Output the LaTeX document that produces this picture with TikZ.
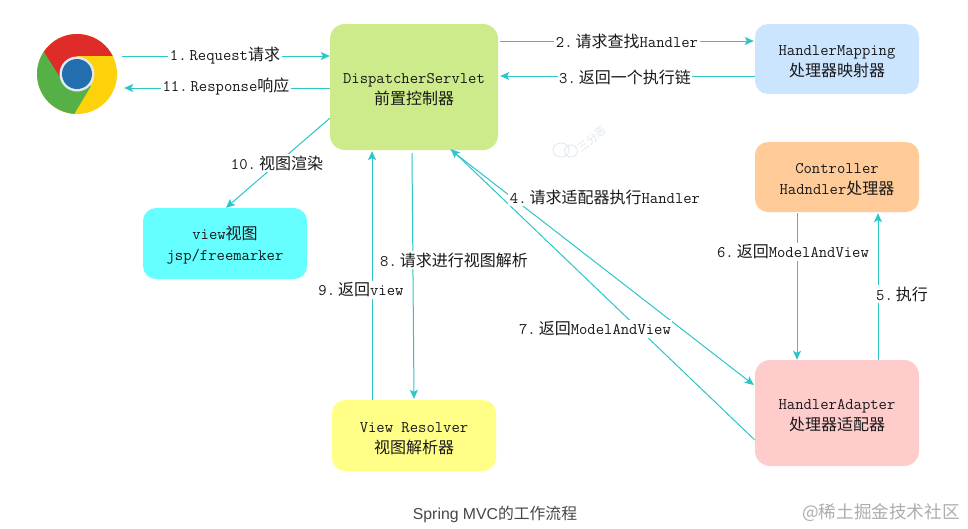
\documentclass[tikz,border=0pt]{standalone}
\usepackage{fontspec}
\setsansfont{Liberation Sans}
\newfontfamily\cjk{Noto Sans CJK SC}
\newcommand{\Z}[1]{{\cjk\fontsize{16}{19}\selectfont #1}}
\newcommand{\Up}{\rule{0pt}{16pt}}
\newcommand{\Sp}{\hspace{3pt}}
\usetikzlibrary{calc,arrows.meta}
\definecolor{linec}{HTML}{2CC6C9}
\tikzset{
  x=1pt,y=-1pt,
  boxn/.style={rectangle,rounded corners=13pt,inner sep=0pt,minimum width=164pt,minimum height=70pt,align=center,
    font=\ttfamily\fontsize{16.2}{21}\selectfont,text=black!90},
  conn/.style={draw=linec,line width=1pt,-{Stealth[length=9pt,width=8pt,inset=2pt]}},
  lab/.style={fill=white,inner sep=1.5pt,font=\ttfamily\fontsize{16.2}{19}\selectfont,text=black!90},
}
\begin{document}
\begin{tikzpicture}
\useasboundingbox (0,0) rectangle (968,528);
\fill[white] (0,0) rectangle (968,528);

% boxes
\node[boxn,fill={rgb,255:red,205;green,235;blue,139},minimum width=168pt,minimum height=126pt,rounded corners=15pt] (disp) at (414,87) {\Up DispatcherServlet\\\Z{前置控制器}};
\node[boxn,fill={rgb,255:red,204;green,229;blue,255}] (map) at (837,59) {\Up HandlerMapping\\\Z{处理器映射器}};
\node[boxn,fill={rgb,255:red,255;green,204;blue,153}] (ctrl) at (837,177) {\Up Controller\\Hadndler\Z{处理器}};
\node[boxn,fill={rgb,255:red,255;green,204;blue,204},minimum height=106pt,rounded corners=15pt] (adapt) at (837,413) {\Up HandlerAdapter\\\Z{处理器适配器}};
\node[boxn,fill={rgb,255:red,255;green,255;blue,136},minimum height=71pt] (res) at (414,435.5) {\Up View Resolver\\\Z{视图解析器}};
\node[boxn,fill={rgb,255:red,102;green,255;blue,255},minimum height=71pt] (view) at (225,243.5) {\Up view\Z{视图}\\jsp/freemarker};

% browser icon
\node[circle,minimum size=80pt,inner sep=0pt] (chrome) at (77,74) {};
\begin{scope}[shift={(77,74)},y=1pt]
  \fill[color={rgb,255:red,253;green,210;blue,10}] (0,0) circle[radius=40pt];
  \fill[color={rgb,255:red,85;green,177;blue,70}] (146:40pt) arc[start angle=146,end angle=266,radius=40pt] -- (14,-12) -- (-16,0) -- cycle;
  \fill[color={rgb,255:red,224;green,43;blue,43}] (27:40pt) arc[start angle=27,end angle=146,radius=40pt] -- (-17,-3) -- (0,18) -- cycle;
  \fill[color={rgb,255:red,225;green,232;blue,240}] (0,0) circle[radius=17.5pt];
  \fill[color={rgb,255:red,35;green,110;blue,175}] (0,0) circle[radius=15pt];
\end{scope}

% connectors
\coordinate (c1) at ($(chrome.east)+(5,-18)$);
\coordinate (c11) at ($(chrome.east)+(7,14)$);
\draw[conn] (c1) -- (disp.west |- c1);
\draw[conn] (disp.west |- c11) -- (c11);
\draw[conn] ($(disp.east)+(2,-46)$) -- ($(map.west)+(-1,-18)$);
\draw[conn] ($(map.west)+(0,17)$) -- ($(disp.east)+(2,-11)$);
\draw[conn] ($(disp.south west)+(0,-32)$) -- ($(view.north)+(1,0)$);
\draw[conn] ($(res.north)+(-42,0)$) -- ($(disp.south)+(-42,1)$);
\draw[conn] ($(disp.south)+(-2,3)$) -- ($(res.north)+(0,-1)$);
\draw[conn] ($(disp.south)+(37,0)$) -- ($(adapt.west)+(-1,-28)$);
\draw[conn] ($(adapt.west)+(0,27)$) -- ($(disp.south)+(37,-1)$);
\draw[conn] ($(adapt.north)+(41,0)$) -- ($(ctrl.south)+(41,1)$);
\draw[conn] ($(ctrl.south)+(-40,1)$) -- ($(adapt.north)+(-40,0)$);

% labels
\node[lab] (l1) at (225,56) {1.\Sp Request\Z{请求}};
\node[lab] (l11) at (226,87) {11.\Sp Response\Z{响应}};
\node[lab] (l2) at (627,41) {2.\Sp\Z{请求查找}Handler};
\node[lab] (l3) at (625,77) {3.\Sp\Z{返回一个执行链}};
\node[lab] (l10) at (277,163) {10.\Sp\Z{视图渲染}};
\node[lab] (l4) at (605,197) {4.\Sp\Z{请求适配器执行}Handler};
\node[lab] (l8) at (454,260) {8.\Sp\Z{请求进行视图解析}};
\node[lab] (l9) at (361,290) {9.\Sp\Z{返回}view};
\node[lab] (l7) at (595,329) {7.\Sp\Z{返回}ModelAndView};
\node[lab] (l6) at (793,252) {6.\Sp\Z{返回}ModelAndView};
\node[lab] (l5) at (902,294) {5.\Sp\Z{执行}};

% watermark and captions
\begin{scope}[draw={rgb,255:red,222;green,232;blue,242},line width=.8pt]
  \draw (561,150) ellipse[x radius=8pt,y radius=7pt];
  \draw (571,151) ellipse[x radius=6.5pt,y radius=6pt];
\end{scope}
\node[rotate=37,text={rgb,255:red,222;green,232;blue,242},font=\cjk\fontsize{11}{13}\selectfont] (wm) at (592,139) {三分恶};
\node[font=\cjk\fontsize{15.8}{18}\selectfont,text=black!72] (cap) at (495,514) {{\sffamily Spring MVC}的工作流程};
\node[font=\cjk\fontsize{17.6}{20}\selectfont,text=black!32] (jj) at (881,513) {@稀土掘金技术社区};
\end{tikzpicture}
\end{document}
